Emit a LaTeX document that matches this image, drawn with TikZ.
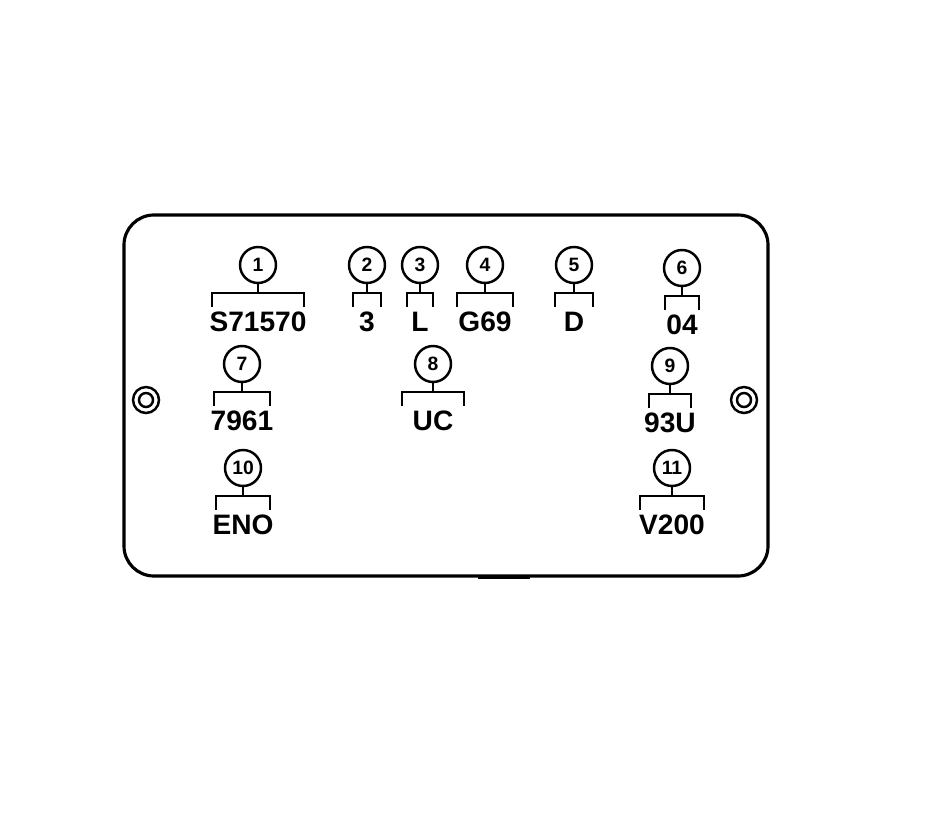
\documentclass[tikz,border=0pt]{standalone}
\usepackage{fontspec}
\setmainfont{Liberation Sans}
\usepackage{tikz}
\usetikzlibrary{positioning,calc}
\tikzstyle{plate} = [line width=1.8pt, rounded corners=0.6cm]
\tikzstyle{stem} = [line width=1.6pt]

\begin{document}
\begin{tikzpicture}[x=0.02cm, y=-0.02cm,
    callout/.style={circle, draw, line width=1.4pt, fill=white, minimum size=0.72cm, inner sep=0pt, font=\bfseries\fontsize{11}{11}\selectfont},
    tag/.style={inner sep=0pt, font=\bfseries\fontsize{16}{16}\selectfont}]

    \useasboundingbox (0,0) rectangle (928,814);

    % Plate outline, tab and screws
    \draw[plate] (124,215) rectangle (768,576);
    \draw[line width=2.6pt] (478,577) -- (530,577);
    \draw[line width=1.4pt] (146,400) circle (13) (146,400) circle (7);
    \draw[line width=1.4pt] (744,400) circle (13) (744,400) circle (7);

    % Callouts: number / x / y / half width of bracket / text
    \foreach \i/\x/\y/\w/\txt in {1/258/265/46/S71570, 2/367/265/14/3, 3/420/265/13/L,
        4/485/265/28/G69, 5/574/265/19/D, 6/682/268/17/04,
        7/242/364/28/7961, 8/433/364/31/UC, 9/670/366/21/93U,
        10/243/468/27/ENO, 11/672/468/32/V200} {
        \node[callout] (n\i) at (\x,\y) {\i};
        \coordinate (b\i) at (\x,\y+28);
        \coordinate (bl\i) at (\x-\w,\y+28);
        \coordinate (br\i) at (\x+\w,\y+28);
        \node[tag] (t\i) at (\x,\y+57) {\txt};
        \draw[stem] (n\i) -- (b\i);
        \draw[stem] ($(bl\i)+(0,14)$) -- (bl\i) -- (br\i) -- ($(br\i)+(0,14)$);
    }
\end{tikzpicture}
\end{document}
